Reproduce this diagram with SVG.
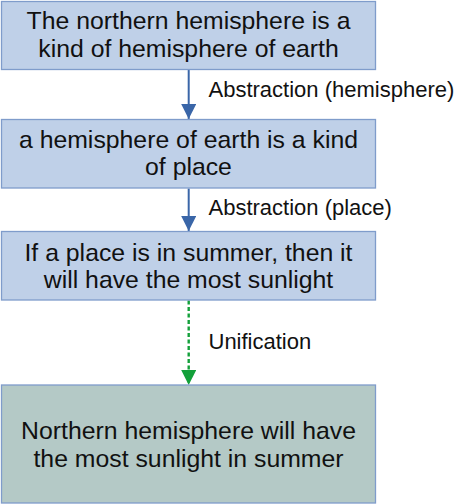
<svg xmlns="http://www.w3.org/2000/svg" width="456" height="504" viewBox="0 0 456 504">
<defs>
<style>
.box{fill:#bfd0e8;stroke:#7f9ccb;stroke-width:1.3}
.concl{fill:#b4c9c6;stroke:#7f9ccb;stroke-width:1.3}
.nt{font-family:"Liberation Sans",Arial,sans-serif;font-size:24.8px;fill:#111;text-anchor:middle}
.lt{font-family:"Liberation Sans",Arial,sans-serif;font-size:22px;fill:#111}
.blue{stroke:#3a66a8;stroke-width:2;fill:none}
.green{stroke:#13a03a;stroke-width:2.4;fill:none;stroke-dasharray:4 2.5}
</style>
<marker id="ab" markerWidth="15" markerHeight="15" viewBox="0 0 15 15" refX="15" refY="7.5" orient="auto" markerUnits="userSpaceOnUse">
<path d="M0,0 L15,7.5 L0,15 Z" fill="#3a66a8"/>
</marker>
<marker id="ag" markerWidth="15" markerHeight="15" viewBox="0 0 15 15" refX="15" refY="7.5" orient="auto" markerUnits="userSpaceOnUse">
<path d="M0,0 L15,7.5 L0,15 Z" fill="#13a03a"/>
</marker>
</defs>
<rect width="456" height="504" fill="#fff"/>
<g id="connectors">
<g id="e1"><line class="blue" x1="188.7" y1="70" x2="188.7" y2="119" marker-end="url(#ab)"/>
<text class="lt" x="208.5" y="96.5">Abstraction (hemisphere)</text></g>
<g id="e2"><line class="blue" x1="188.7" y1="188.5" x2="188.7" y2="231" marker-end="url(#ab)"/>
<text class="lt" x="208.5" y="214.5">Abstraction (place)</text></g>
<g id="e3"><line class="green" x1="188.7" y1="300.5" x2="188.7" y2="385" marker-end="url(#ag)"/>
<text class="lt" x="208.5" y="348.5">Unification</text></g>
</g>
<g id="n1"><rect class="box" x="1.5" y="1.5" width="374" height="68"/>
<text class="nt" x="188.5" y="29">The northern hemisphere is a</text>
<text class="nt" x="188.5" y="57">kind of hemisphere of earth</text></g>
<g id="n2"><rect class="box" x="1.5" y="119.5" width="374" height="68.5"/>
<text class="nt" x="188.5" y="147.5">a hemisphere of earth is a kind</text>
<text class="nt" x="188.5" y="175">of place</text></g>
<g id="n3"><rect class="box" x="1.5" y="231.5" width="374" height="68.5"/>
<text class="nt" x="188.5" y="260.5">If a place is in summer, then it</text>
<text class="nt" x="188.5" y="288.3">will have the most sunlight</text></g>
<g id="n4"><rect class="concl" x="1.5" y="385" width="374" height="118"/>
<text class="nt" x="188.5" y="439">Northern hemisphere will have</text>
<text class="nt" x="188.5" y="466.7">the most sunlight in summer</text></g>
</svg>
